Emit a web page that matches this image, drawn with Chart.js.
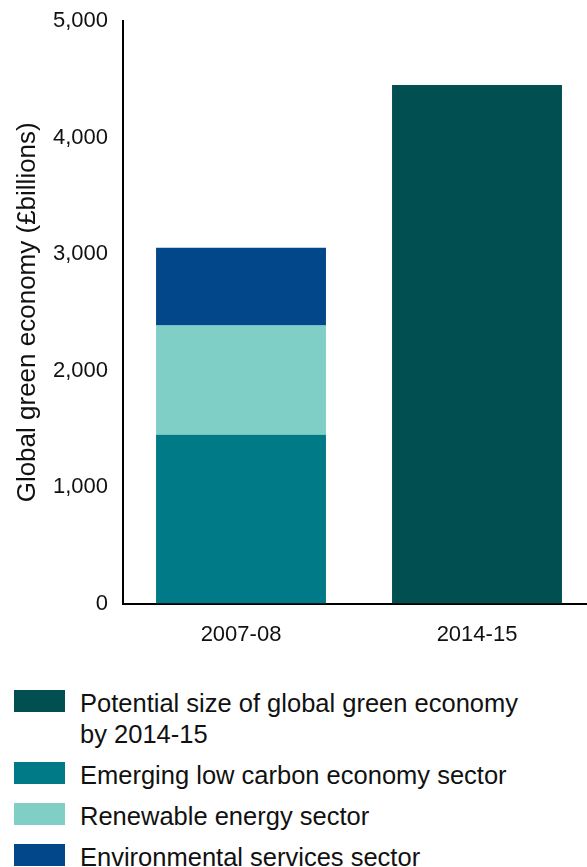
<!DOCTYPE html>
<html>
<head>
<meta charset="utf-8">
<script src="https://cdn.jsdelivr.net/npm/chart.js@4/dist/chart.umd.min.js"></script>
<style>
  html, body { margin: 0; padding: 0; background: #fff; overflow: hidden; }
  body { width: 587px; height: 867px; position: relative; font-family: "Liberation Sans", Arial, sans-serif; }
  #wrap { position: absolute; left: 0; top: 0; width: 595px; height: 679px; }
  #legend { position: absolute; left: 0; top: 688px; display: flex; flex-direction: column; gap: 10px; }
  .item { display: flex; align-items: flex-start; }
  .box { width: 51px; height: 22px; margin: 2px 0 0 14px; flex: none; }
  .text { margin-left: 15px; width: 455px; font-size: 25.5px; line-height: 31px; color: #111; }
</style>
</head>
<body>
<div id="wrap"><canvas id="chart"></canvas></div>
<div id="legend"></div>
<script>
// Data (£ billions)
const categories = ['2007-08', '2014-15'];
const emergingLowCarbon = [1450, null];
const renewableEnergy = [936, null];
const environmentalServices = [669, null];
const potentialSize = [null, 4450];

const colors = {
  potential: '#024f52',
  emerging: '#007a87',
  renewable: '#80cfc7',
  environmental: '#03478b'
};

const FONT = '"Liberation Sans", Arial, sans-serif';

const datasets = [
  { key: 'emerging', label: 'Emerging low carbon economy sector', data: emergingLowCarbon, backgroundColor: colors.emerging },
  { key: 'renewable', label: 'Renewable energy sector', data: renewableEnergy, backgroundColor: colors.renewable },
  { key: 'environmental', label: 'Environmental services sector', data: environmentalServices, backgroundColor: colors.environmental },
  { key: 'potential', label: 'Potential size of global green economy by 2014-15', data: potentialSize, backgroundColor: colors.potential }
];

const ctx = document.getElementById('chart').getContext('2d');

const chart = new Chart(ctx, {
  type: 'bar',
  data: {
    labels: categories,
    datasets: datasets.map(d => ({
      label: d.label,
      data: d.data,
      backgroundColor: d.backgroundColor,
      borderWidth: 0,
      barPercentage: 0.72,
      categoryPercentage: 1
    }))
  },
  options: {
    responsive: true,
    maintainAspectRatio: false,
    animation: false,
    layout: { padding: { top: 21, bottom: 13, left: 0, right: 0 } },
    plugins: {
      legend: { display: false },
      tooltip: { enabled: false }
    },
    scales: {
      x: {
        stacked: true,
        grid: { display: false, drawTicks: false },
        border: { color: '#000', width: 2 },
        ticks: { color: '#111', padding: 18, font: { family: FONT, size: 22 } }
      },
      y: {
        stacked: true,
        min: 0,
        max: 5000,
        grid: { display: false, drawTicks: false },
        border: { color: '#000', width: 2 },
        ticks: {
          stepSize: 1000,
          color: '#111',
          padding: 15,
          font: { family: FONT, size: 22 },
          callback: v => v.toLocaleString('en-GB')
        },
        title: {
          display: true,
          text: 'Global green economy (£billions)',
          color: '#111',
          font: { family: FONT, size: 26 },
          padding: { top: 12, bottom: 0 }
        },
        afterFit: scale => {
          scale.width = 123;
          scale.paddingTop = 0;
        }
      }
    }
  }
});

// HTML legend, in the reference's order
const legendOrder = ['potential', 'emerging', 'renewable', 'environmental'];
const legendEl = document.getElementById('legend');
legendOrder.forEach(key => {
  const d = datasets.find(x => x.key === key);
  const item = document.createElement('div');
  item.className = 'item';
  item.innerHTML = `<div class="box" style="background:${d.backgroundColor}"></div><div class="text">${d.label}</div>`;
  legendEl.appendChild(item);
});
</script>
</body>
</html>
